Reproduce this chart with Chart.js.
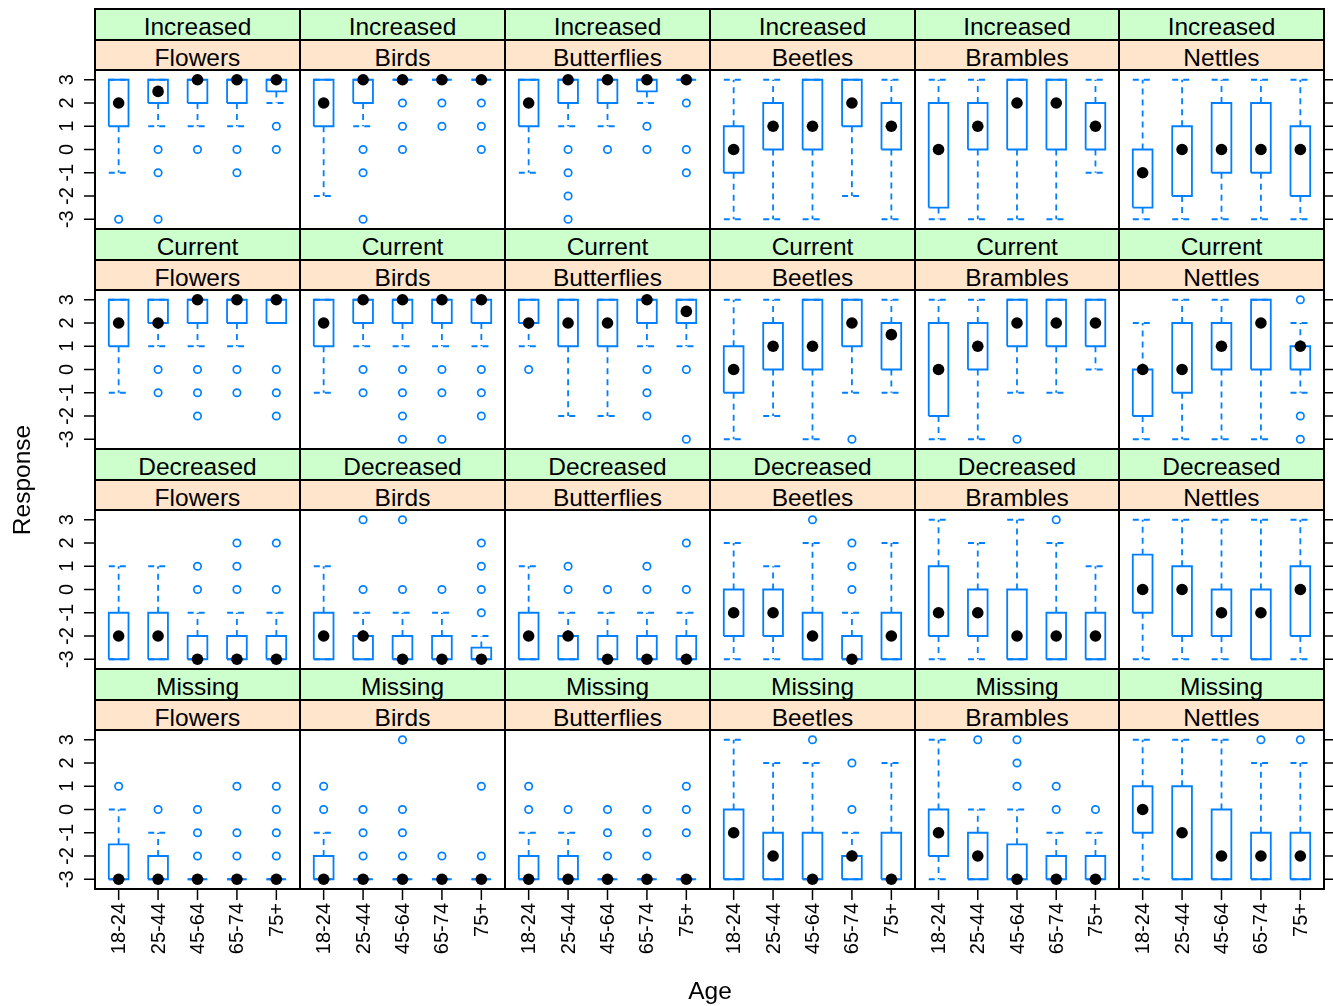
<!DOCTYPE html>
<html><head><meta charset="utf-8">
<script src="https://cdn.jsdelivr.net/npm/chart.js@4"></script>
<style>
html,body{margin:0;padding:0;background:#fff;}
body{width:1333px;height:1006px;position:relative;overflow:hidden;font-family:"Liberation Sans",Arial,Helvetica,sans-serif;}
canvas{position:absolute;}
.strip{position:absolute;text-align:center;font-size:24.5px;color:#000;white-space:nowrap;overflow:hidden;box-sizing:border-box;padding-top:3px;}
.frame{position:absolute;box-sizing:border-box;border:2px solid #000;pointer-events:none;}
.lab{position:absolute;text-align:center;font-size:24.5px;color:#000;white-space:nowrap;height:30px;line-height:30px;}
</style></head><body>
<script>
// ---------- categories ----------
const ages = ['18-24','25-44','45-64','65-74','75+'];
const groups = ['Flowers','Birds','Butterflies','Beetles','Brambles','Nettles'];
const responses = ['Increased','Current','Decreased','Missing'];
const yTicks = [-3,-2,-1,0,1,2,3];

// ---------- Increased (per group: 5 age classes) ----------
const increasedLo  = [[-1,1,1,1,2],[-2,1,3,3,3],[-1,1,1,2,3],[-3,-3,-3,-2,-3],[-3,-3,-3,-3,-1],[-3,-3,-3,-3,-3]];
const increasedQ1  = [[1,2,2,2,2.5],[1,2,3,3,3],[1,2,2,2.5,3],[-1,0,0,1,0],[-2.5,0,0,0,0],[-2.5,-2,-1,-1,-2]];
const increasedMed = [[2,2.5,3,3,3],[2,3,3,3,3],[2,3,3,3,3],[0,1,1,2,1],[0,1,2,2,1],[-1,0,0,0,0]];
const increasedQ3  = [[3,3,3,3,3],[3,3,3,3,3],[3,3,3,3,3],[1,2,3,3,2],[2,2,3,3,2],[0,1,2,2,1]];
const increasedHi  = [[3,3,3,3,3],[3,3,3,3,3],[3,3,3,3,3],[3,3,3,3,3],[3,3,3,3,3],[3,3,3,3,3]];
const increasedOut = [[[-3],[0,-1,-3],[0],[0,-1],[1,0]],[[],[0,-1,-3],[2,1,0],[2,1],[2,1,0]],[[],[0,-1,-2,-3],[0],[1,0],[2,0,-1]],[[],[],[],[],[]],[[],[],[],[],[]],[[],[],[],[],[]]];

// ---------- Current ----------
const currentLo  = [[-1,1,1,1,2],[-1,1,1,1,1],[1,-2,-2,1,1],[-3,-2,-3,-1,-1],[-3,-3,-1,-1,0],[-3,-3,-3,-3,-1]];
const currentQ1  = [[1,2,2,2,2],[1,2,2,2,2],[2,1,1,2,2],[-1,0,0,1,0],[-2,0,1,1,1],[-2,-1,0,0,0]];
const currentMed = [[2,2,3,3,3],[2,3,3,3,3],[2,2,2,3,2.5],[0,1,1,2,1.5],[0,1,2,2,2],[0,0,1,2,1]];
const currentQ3  = [[3,3,3,3,3],[3,3,3,3,3],[3,3,3,3,3],[1,2,3,3,2],[2,2,3,3,3],[0,2,2,3,1]];
const currentHi  = [[3,3,3,3,3],[3,3,3,3,3],[3,3,3,3,3],[3,3,3,3,3],[3,3,3,3,3],[2,3,3,3,2]];
const currentOut = [[[],[0,-1],[0,-1,-2],[0,-1],[0,-1,-2]],[[],[0,-1],[0,-1,-2,-3],[0,-1,-3],[0,-1,-2]],[[0],[],[],[0,-1,-2],[0,-3]],[[],[],[],[-3],[]],[[],[],[-3],[],[]],[[],[],[],[],[3,-2,-3]]];

// ---------- Decreased ----------
const decreasedLo  = [[-3,-3,-3,-3,-3],[-3,-3,-3,-3,-3],[-3,-3,-3,-3,-3],[-3,-3,-3,-3,-3],[-3,-3,-3,-3,-3],[-3,-3,-3,-3,-3]];
const decreasedQ1  = [[-3,-3,-3,-3,-3],[-3,-3,-3,-3,-3],[-3,-3,-3,-3,-3],[-2,-2,-3,-3,-3],[-2,-2,-3,-3,-3],[-1,-2,-2,-3,-2]];
const decreasedMed = [[-2,-2,-3,-3,-3],[-2,-2,-3,-3,-3],[-2,-2,-3,-3,-3],[-1,-1,-2,-3,-2],[-1,-1,-2,-2,-2],[0,0,-1,-1,0]];
const decreasedQ3  = [[-1,-1,-2,-2,-2],[-1,-2,-2,-2,-2.5],[-1,-2,-2,-2,-2],[0,0,-1,-2,-1],[1,0,0,-1,-1],[1.5,1,0,0,1]];
const decreasedHi  = [[1,1,-1,-1,-1],[1,-1,-1,-1,-2],[1,-1,-1,-1,-1],[2,1,2,-1,2],[3,2,3,2,1],[3,3,3,3,3]];
const decreasedOut = [[[],[],[1,0],[2,1,0],[2,0]],[[],[3,0],[3,0],[0],[2,1,0,-1]],[[],[1,0],[0],[1,0],[2,0]],[[],[],[3],[2,1,0],[]],[[],[],[],[3],[]],[[],[],[],[],[]]];

// ---------- Missing ----------
const missingLo  = [[-3,-3,-3,-3,-3],[-3,-3,-3,-3,-3],[-3,-3,-3,-3,-3],[-3,-3,-3,-3,-3],[-3,-3,-3,-3,-3],[-3,-3,-3,-3,-3]];
const missingQ1  = [[-3,-3,-3,-3,-3],[-3,-3,-3,-3,-3],[-3,-3,-3,-3,-3],[-3,-3,-3,-3,-3],[-2,-3,-3,-3,-3],[-1,-3,-3,-3,-3]];
const missingMed = [[-3,-3,-3,-3,-3],[-3,-3,-3,-3,-3],[-3,-3,-3,-3,-3],[-1,-2,-3,-2,-3],[-1,-2,-3,-3,-3],[0,-1,-2,-2,-2]];
const missingQ3  = [[-1.5,-2,-3,-3,-3],[-2,-3,-3,-3,-3],[-2,-2,-3,-3,-3],[0,-1,-1,-2,-1],[0,-1,-1.5,-2,-2],[1,1,0,-1,-1]];
const missingHi  = [[0,-1,-3,-3,-3],[-1,-3,-3,-3,-3],[-1,-1,-3,-3,-3],[3,2,2,-1,2],[3,0,0,-1,-1],[3,3,3,2,2]];
const missingOut = [[[1],[0],[0,-1,-2],[1,-1,-2],[1,0,-1,-2]],[[1,0],[0,-1,-2],[3,0,-1,-2],[-2],[1,-2]],[[1,0],[0],[0,-1,-2],[0,-1,-2],[1,0,-1]],[[],[],[3],[2,0],[]],[[],[3],[3,2,1],[1,0],[0]],[[],[],[],[3],[3]]];

// table built from the arrays above
const rowStats = [
  {lo:increasedLo,q1:increasedQ1,med:increasedMed,q3:increasedQ3,hi:increasedHi,out:increasedOut},
  {lo:currentLo,q1:currentQ1,med:currentMed,q3:currentQ3,hi:currentHi,out:currentOut},
  {lo:decreasedLo,q1:decreasedQ1,med:decreasedMed,q3:decreasedQ3,hi:decreasedHi,out:decreasedOut},
  {lo:missingLo,q1:missingQ1,med:missingMed,q3:missingQ3,hi:missingHi,out:missingOut}
];

// ---------- layout ----------
const W = 1333, H = 1006;
const colEdge = c => Math.round(95.3 + c*204.83);
const rowTop = r => Math.round(9 + r*220.1);
const STRIP = 30.5;
const BLUE = '#0080ff';
const HALF = 0.25;
const FONT = '"Liberation Sans", Arial, Helvetica, sans-serif';

const axisPlugin = {
  id:'axisTicks',
  afterDraw(chart, args, opts){
    const {ctx, chartArea:a, scales} = chart;
    const x = scales.x, y = scales.y;
    ctx.save();
    ctx.strokeStyle = '#000'; ctx.fillStyle = '#000'; ctx.lineWidth = 1.5;
    ctx.font = '20px ' + FONT;
    const seg = (x0,y0,x1,y1)=>{ctx.beginPath();ctx.moveTo(x0,y0);ctx.lineTo(x1,y1);ctx.stroke();};
    if (opts.left) {
      yTicks.forEach(v=>{
        const py = y.getPixelForValue(v);
        seg(a.left-11, py, a.left, py);
        ctx.save(); ctx.translate(a.left-22, py); ctx.rotate(-Math.PI/2);
        ctx.textAlign='center'; ctx.textBaseline='alphabetic'; ctx.fillText(String(v),0,0); ctx.restore();
      });
    }
    if (opts.right) {
      yTicks.forEach(v=>{ const py = y.getPixelForValue(v); seg(a.right, py, a.right+11, py); });
    }
    if (opts.bottom) {
      ages.forEach((lab,i)=>{
        const px = x.getPixelForValue(i+1);
        seg(px, a.bottom, px, a.bottom+11);
        ctx.save(); ctx.translate(px+1, a.bottom+14); ctx.rotate(-Math.PI/2);
        ctx.textAlign='right'; ctx.textBaseline='middle'; ctx.fillText(lab,0,0); ctx.restore();
      });
    }
    ctx.restore();
  }
};

function addDiv(cls, l, t, w, h, html, extra){
  const d = document.createElement('div');
  d.className = cls;
  d.style.left = l+'px'; d.style.top = t+'px'; d.style.width = w+'px'; d.style.height = h+'px';
  if (extra) Object.assign(d.style, extra);
  if (html) d.textContent = html;
  document.body.appendChild(d);
  return d;
}

for (let r=0; r<4; r++) {
  const st = rowStats[r];
  const t0 = rowTop(r), pTop = t0 + 2*STRIP, pBot = rowTop(r+1);
  for (let c=0; c<6; c++) {
    const x0 = colEdge(c), x1 = colEdge(c+1);
    // strips
    addDiv('strip', x0, t0, x1-x0, STRIP, responses[r], {background:'#ccffcc', lineHeight:STRIP+'px'});
    addDiv('strip', x0, t0+STRIP, x1-x0, STRIP, groups[c], {background:'#ffe5cc', lineHeight:STRIP+'px'});

    // datasets from the stats
    const med=[], out=[], box=[], wh=[];
    for (let i=0; i<5; i++) {
      const k = i+1;
      const lo = st.lo[c][i], q1 = st.q1[c][i], m = st.med[c][i], q3 = st.q3[c][i], hi = st.hi[c][i];
      med.push({x:k, y:m});
      st.out[c][i].forEach(v=>out.push({x:k, y:v}));
      box.push({x:k-HALF,y:q1},{x:k+HALF,y:q1},{x:k+HALF,y:q3},{x:k-HALF,y:q3},{x:k-HALF,y:q1},{x:k,y:null});
      wh.push({x:k,y:q3},{x:k,y:hi},{x:k,y:null},{x:k-HALF,y:hi},{x:k+HALF,y:hi},{x:k,y:null});
      wh.push({x:k,y:q1},{x:k,y:lo},{x:k,y:null},{x:k-HALF,y:lo},{x:k+HALF,y:lo},{x:k,y:null});
    }

    const cl = c===0 ? 0 : x0;
    const cr = c===5 ? W : x1;
    const cb = r===3 ? H : pBot;
    const cv = document.createElement('canvas');
    cv.width = cr-cl; cv.height = cb-pTop;
    cv.style.left = cl+'px'; cv.style.top = pTop+'px';
    cv.style.width = (cr-cl)+'px'; cv.style.height = (cb-pTop)+'px';
    document.body.appendChild(cv);

    new Chart(cv, {
      type:'line',
      data:{datasets:[
        {label:'median', data:med, showLine:false, pointRadius:5.8, pointBackgroundColor:'#000', pointBorderColor:'#000', pointBorderWidth:0, clip:false},
        {label:'outliers', data:out, showLine:false, pointRadius:3.7, pointBackgroundColor:'rgba(0,0,0,0)', pointBorderColor:BLUE, pointBorderWidth:1.7, clip:false},
        {label:'box', data:box, borderColor:BLUE, borderWidth:1.8, pointRadius:0, fill:false, tension:0, borderJoinStyle:'miter', spanGaps:false, clip:false},
        {label:'whiskers', data:wh, borderColor:BLUE, borderWidth:1.8, borderDash:[6,5], pointRadius:0, fill:false, tension:0, spanGaps:false, clip:false}
      ]},
      options:{
        responsive:false, animation:false, events:[],
        layout:{autoPadding:false, padding:{left:x0-cl, right:cr-x1, top:0, bottom:cb-pBot}},
        plugins:{legend:{display:false}, tooltip:{enabled:false},
          axisTicks:{left:c===0, right:c===5, bottom:r===3}},
        scales:{
          x:{type:'linear', min:0.4, max:5.6, display:false},
          y:{type:'linear', min:-3.42, max:3.42, display:false}
        }
      },
      plugins:[axisPlugin]
    });

    // frames
    addDiv('frame', x0-1, t0-1, x1-x0+2, STRIP+2);
    addDiv('frame', x0-1, t0+STRIP-1, x1-x0+2, STRIP+2);
    addDiv('frame', x0-1, pTop-1, x1-x0+2, pBot-pTop+2);
  }
}

// axis titles
addDiv('lab', 22-100, 480-15, 200, 30, 'Response', {transform:'rotate(-90deg)'});
addDiv('lab', 710-100, 976, 200, 30, 'Age');
</script>
</body></html>
